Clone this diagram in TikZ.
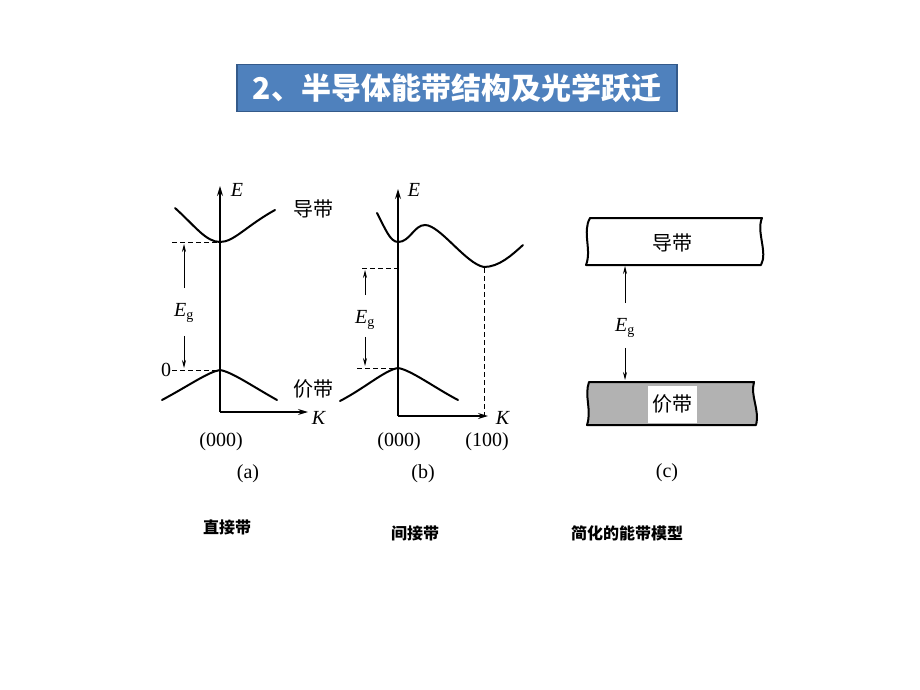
\documentclass[tikz,border=0pt]{standalone}
\usepackage{xcolor}
\usepackage{tikz}
\usepackage{fontspec}
\setmainfont{Liberation Serif}
\newfontfamily\cjk{Noto Sans CJK SC}
\usetikzlibrary{arrows.meta}
\usetikzlibrary{positioning}
\usetikzlibrary{calc}

\definecolor{titleblue}{RGB}{79,129,189}
\definecolor{titleedge}{RGB}{52,90,138}
\definecolor{bandgray}{RGB}{178,178,178}

\tikzset{
  axis/.style={line width=1.2pt,-{Stealth[length=10pt,width=6pt]}},
  band/.style={line width=2pt,line cap=round},
  guide/.style={line width=0.7pt,dash pattern=on 5pt off 3pt},
  gaparrow/.style={line width=0.8pt,-{Stealth[length=8pt,width=4pt]}},
  sym/.style={font=\fontsize{20}{24}\selectfont,inner sep=1pt},
  cjklabel/.style={font=\cjk\fontsize{20}{24}\selectfont,inner sep=1pt},
  caption/.style={font=\cjk\bfseries\fontsize{16}{19}\selectfont},
  bandbox/.style={line width=2pt,line join=round}
}

\begin{document}
\begin{tikzpicture}[x=1pt,y=-1pt]
    \useasboundingbox[fill=white] (0,0) rectangle (920,690);
    \node[draw=titleedge,line width=1.5pt,fill=titleblue,text=white,
          font=\cjk\bfseries\fontsize{30}{34}\selectfont,
          minimum width=440pt,minimum height=47pt] (title) at (457,88)
          {2、半导体能带结构及光学跃迁};

    % (a) direct gap
    \coordinate (oa) at (220,412);
    \coordinate (ea) at (220,186);
    \coordinate (ka) at (308,412);
    \draw[axis] (oa) -- (ea);
    \draw[axis] (oa) -- (ka);
    \draw[band] (175,208) .. controls (195,226) and (206,242) .. (220,242)
                .. controls (234,242) and (246,226) .. (275,210);
    \draw[band] (162,400) .. controls (190,385) and (208,372) .. (220,370)
                .. controls (232,372) and (252,386) .. (277,400);
    \coordinate (cmina) at (220,242);
    \coordinate (vmaxa) at (220,370);
    \coordinate (gtopa) at (184,244);
    \coordinate (gbota) at (184,368);
    \begin{scope}[every node/.style=sym]
    \node (Ea) at (237,190) {\textit{E}};
    \node (Ka) at (319,418) {\textit{K}};
    \node (ega) at (184,313) {\textit{E}\textsubscript{g}};
    \node (zeroa) at (166,370) {0};
    \node (k000a) at (221,442) {(000)};
    \node (capa) at (248,474) {(a)};
    \end{scope}
    \begin{scope}[every node/.style=cjklabel]
    \node (cba) at (313,209) {导带};
    \node (vba) at (313,389) {价带};
    \end{scope}
    \draw[guide] ($(cmina)+(-48,0)$) -- (cmina);
    \draw[guide] (zeroa.east) -- (vmaxa);
    \draw[gaparrow,shorten <=14pt] (ega.north) -- (gtopa);
    \draw[gaparrow,shorten <=12pt] (ega.south) -- (gbota);

    % (b) indirect gap
    \coordinate (ob) at (398,416);
    \coordinate (eb) at (398,189);
    \coordinate (kb) at (488,416);
    \draw[axis] (ob) -- (eb);
    \draw[axis] (ob) -- (kb);
    \draw[band] (377,213) .. controls (385,228) and (390,242) .. (398,242)
                .. controls (410,242) and (414,225) .. (425,225)
                .. controls (440,225) and (466,264) .. (484,267)
                .. controls (499,267) and (512,255) .. (523,245);
    \draw[band] (340,401) .. controls (365,388) and (385,370) .. (398,368)
                .. controls (411,370) and (435,388) .. (458,400);
    \coordinate (cminb) at (484,268);
    \coordinate (ccb) at (398,268);
    \coordinate (vmaxb) at (398,368);
    \coordinate (kxb) at (484,416);
    \coordinate (gtopb) at (365,270);
    \coordinate (gbotb) at (365,366);
    \begin{scope}[every node/.style=sym]
    \node (Eb) at (414,190) {\textit{E}};
    \node (Kb) at (503,418) {\textit{K}};
    \node (egb) at (365,320) {\textit{E}\textsubscript{g}};
    \node (k000b) at (399,442) {(000)};
    \node (k100b) at (487,442) {(100)};
    \node (capb) at (423,474) {(b)};
    \end{scope}
    \draw[guide] ($(ccb)+(-36,0)$) -- (ccb);
    \draw[guide] (cminb) -- (kxb);
    \draw[guide] ($(vmaxb)+(-41,0)$) -- (vmaxb);
    \draw[gaparrow,shorten <=14pt] (egb.north) -- (gtopb);
    \draw[gaparrow,shorten <=6pt] (egb.south) -- (gbotb);

    % (c) simple band model
    \draw[bandbox,fill=white] (590,218) -- (762,218)
        .. controls (756,232) and (768,252) .. (761,265) -- (586,265)
        .. controls (592,250) and (582,232) .. cycle;
    \draw[bandbox,fill=bandgray] (589,382) -- (754,382)
        .. controls (750,396) and (760,410) .. (756,425) -- (587,425)
        .. controls (592,410) and (584,396) .. cycle;
    \coordinate (gtopc) at (625,266);
    \coordinate (gbotc) at (625,380);
    \node[cjklabel] (cbc) at (672,243) {导带};
    \node[cjklabel,fill=white,minimum width=49pt,minimum height=37pt] (vbc) at (672,404) {价带};
    \node[sym] (egc) at (625,328) {\textit{E}\textsubscript{g}};
    \node[sym] (capc) at (667,473) {(c)};
    \draw[gaparrow,shorten <=14pt] (egc.north) -- (gtopc);
    \draw[gaparrow,shorten <=9pt] (egc.south) -- (gbotc);

    \begin{scope}[every node/.style=caption]
    \node (capdirect) at (227,527) {直接带};
    \node (capindirect) at (415,533) {间接带};
    \node (capmodel) at (627,533) {简化的能带模型};
    \end{scope}
\end{tikzpicture}
\end{document}
